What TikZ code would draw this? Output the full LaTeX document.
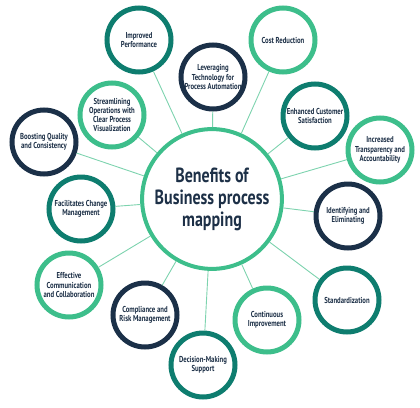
\documentclass[tikz,border=0pt]{standalone}
\usepackage{fontspec}
\setmainfont{PT Sans}[FakeStretch=0.78]
\definecolor{lgreen}{HTML}{3DBE8B}
\definecolor{teal}{HTML}{0E7D6F}
\definecolor{navy}{HTML}{1B3048}
\definecolor{ink}{HTML}{1D3047}
\definecolor{link}{HTML}{7DD3AE}
\begin{document}
\begin{tikzpicture}[x=1pt,y=-1pt,
    sat/.style={circle,draw,line width=5pt,minimum size=64pt,inner sep=0pt,
      align=center,text=ink,font=\bfseries\fontsize{8.6}{9.2}\selectfont},
    lg/.style={sat,draw=lgreen},
    tl/.style={sat,draw=teal},
    nv/.style={sat,draw=navy},
    conn/.style={draw=link,line width=0.9pt}]
     \useasboundingbox (0,0) rectangle (420,407);
     \node [circle,draw=lgreen,line width=4pt,minimum size=138pt,align=center,text=ink,
       font=\bfseries\fontsize{20.5}{22}\selectfont] (c) at (212,199)
       {Benefits of\\Business process\\mapping};
     \node [tl] (perf) at (139,40) {Improved\\Performance};
     \node [nv] (tech) at (213,77) {Leveraging\\Technology for\\Process Automation};
     \node [lg] (cost) at (283,40) {Cost Reduction};
     \node [tl] (cust) at (315,116) {Enhanced Customer\\Satisfaction};
     \node [lg] (trans) at (380,150) {Increased\\Transparency and\\Accountability};
     \node [nv] (ident) at (348,216) {Identifying and\\Eliminating};
     \node [tl] (std) at (347,300) {Standardization};
     \node [lg] (cont) at (267,320) {Continuous\\Improvement};
     \node [tl] (dec) at (203,365) {Decision-Making\\Support};
     \node [nv] (comp) at (145,315) {Compliance and\\Risk Management};
     \node [lg] (comm) at (69,285) {Effective\\Communication\\and Collaboration};
     \node [tl] (chg) at (81,209) {Facilitates Change\\Management};
     \node [nv] (qual) at (44,142) {Boosting Quality\\and Consistency};
     \node [lg] (strm) at (112,115) {Streamlining\\Operations with\\Clear Process\\Visualization};
     % spokes
     \foreach \s in {perf,tech,cost,cust,trans,ident,std,cont,dec,comp,comm,chg,qual,strm}
       \path[conn] (c) edge (\s);
\end{tikzpicture}
\end{document}
